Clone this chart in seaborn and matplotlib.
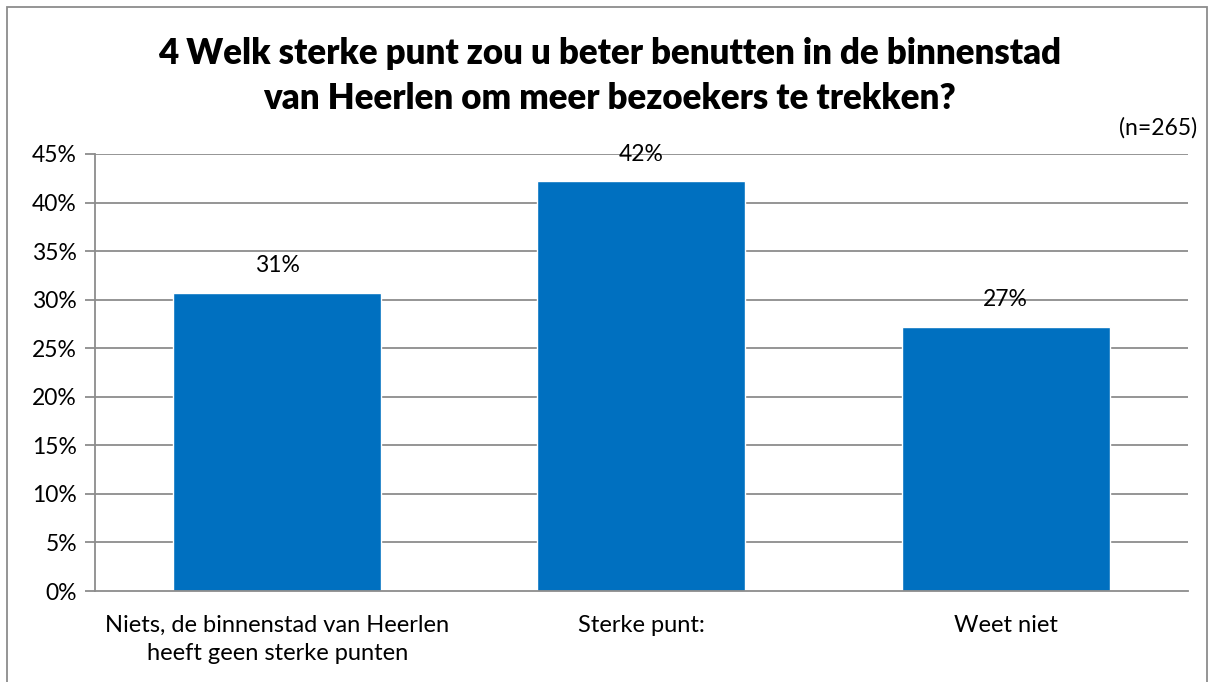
import seaborn as sns
import pandas as pd
import matplotlib.pyplot as plt
from matplotlib.patches import Rectangle
from matplotlib.ticker import PercentFormatter

categories = ["Niets, de binnenstad van Heerlen\nheeft geen sterke punten", "Sterke punt:", "Weet niet"]
values = [30.7, 42.2, 27.2]
labels = ["31%", "42%", "27%"]
yticks = [0, 5, 10, 15, 20, 25, 30, 35, 40, 45]

df = pd.DataFrame({"categorie": categories, "pct": values})

sns.set_theme(style="white")
plt.rcParams['font.family'] = ['Lato', 'DejaVu Sans']
plt.rcParams['text.color'] = "black"

fig = plt.figure(figsize=(12.12, 6.82), dpi=100)
ax = fig.add_axes([0.0784, 0.1334, 0.9016, 0.6408])

sns.barplot(data=df, x="categorie", y="pct", color="#0070C0", saturation=1,
            width=0.571, ax=ax)

grid = "#8C8C8C"
ax.set_ylim(0, 45)
ax.set_xlim(-0.5, 2.5)
ax.set_yticks(yticks)
ax.yaxis.set_major_formatter(PercentFormatter(decimals=0))
for y in yticks[1:]:
    ax.axhline(y, color=grid, lw=1.3, zorder=0)

ax.set_xticks([0, 1, 2])
ax.set_xticklabels(categories, linespacing=1.45)
ax.set_xticks([-0.5, 0.5, 1.5, 2.5], minor=True)
ax.tick_params(axis="x", which="major", length=0, pad=17, labelsize=17, labelcolor="black")
ax.tick_params(axis="x", which="minor", length=7, width=1.3, color=grid, direction="out")
ax.tick_params(axis="y", length=7, width=1.3, color=grid, direction="out", left=True,
               labelsize=16.5, pad=6, labelcolor="black")
ax.set_xlabel("")
ax.set_ylabel("")

for s in ["top", "right"]:
    ax.spines[s].set_visible(False)
for s in ["left", "bottom"]:
    ax.spines[s].set_color(grid)
    ax.spines[s].set_linewidth(1.3)

for i, (v, lab) in enumerate(zip(values, labels)):
    ax.annotate(lab, (i, v), xytext=(0, 12), textcoords="offset points",
                ha="center", va="bottom", fontsize=16.5, color="black")

fig.text(0.503, 0.888, "4 Welk sterke punt zou u beter benutten in de binnenstad\nvan Heerlen om meer bezoekers te trekken?",
         ha="center", va="center", fontsize=25, fontweight="heavy", linespacing=1.45,
         color="black")
fig.text(0.988, 0.812, "(n=265)", ha="right", va="center", fontsize=16.5, color="black")

fig.patches.append(Rectangle((0.006, -0.01), 0.99, 1.0, transform=fig.transFigure,
                             fill=False, edgecolor=grid, lw=1.3))

fig.savefig("out.png", dpi=100)
